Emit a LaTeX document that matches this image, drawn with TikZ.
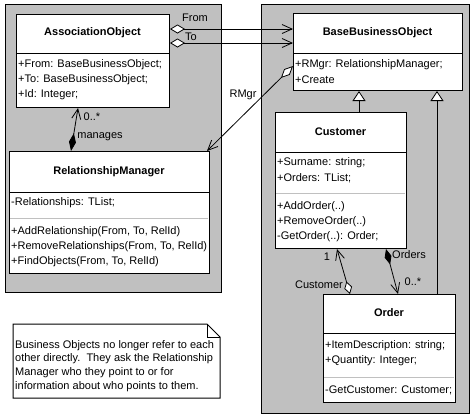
\documentclass[tikz,border=0pt]{standalone}
\usepackage{fontspec}
\setmainfont{Liberation Sans}
\usetikzlibrary{arrows.meta}
\definecolor{panelgray}{HTML}{C0C0C0}
\definecolor{sepgray}{HTML}{C0C0C0}
\begin{document}
\begin{tikzpicture}[x=1pt,y=-1pt,
  panel/.style={draw=black, fill=panelgray, line width=1pt, anchor=north west, inner sep=0pt},
  cbox/.style={draw=black, fill=white, line width=1pt, anchor=north west, inner sep=0pt},
  ctitle/.style={font=\fontsize{11}{13}\selectfont\bfseries, inner sep=0pt},
  ctxt/.style={font=\fontsize{11}{13}\selectfont, anchor=west, inner sep=0pt},
  lbl/.style={font=\fontsize{11}{13}\selectfont, inner sep=0pt},
  bsep/.style={draw=black, line width=1pt},
  gsep/.style={draw=sepgray, line width=1pt},
  conn/.style={draw=black, line width=0.8pt},
  barb/.tip={Straight Barb[length=10pt,width=9pt,line width=0.8pt]},
  odia/.tip={Diamond[fill=white,length=15pt,width=9pt,line width=0.8pt]},
  fdia/.tip={Diamond[fill=black,length=16pt,width=7pt,line width=0.8pt]},
  gtri/.tip={Triangle[fill=white,length=10pt,width=13pt,line width=0.8pt]}
]
\useasboundingbox (0,0) rectangle (474,416);
\fill[white] (0,0) rectangle (474,416);

% panels
\node[panel, minimum width=216pt, minimum height=288pt] (lp) at (5,4) {};
\node[panel, minimum width=208pt, minimum height=409pt] (rp) at (261,4) {};

% AssociationObject
\node[cbox, minimum width=153pt, minimum height=93pt] (ao) at (16,14) {};
\node[ctitle] (aot) at (92.5,33) {AssociationObject};
\draw[bsep] (16,53) -- (169,53);
\node[ctxt] (ao1) at (18,65) {+From: BaseBusinessObject;};
\node[ctxt] (ao2) at (18,80) {+To: BaseBusinessObject;};
\node[ctxt] (ao3) at (18,95) {+Id: Integer;};

% BaseBusinessObject
\node[cbox, minimum width=169pt, minimum height=77pt] (bbo) at (293,13) {};
\node[ctitle] (bbot) at (377.5,33) {BaseBusinessObject};
\draw[bsep] (293,53) -- (462,53);
\node[ctxt] (bbo1) at (295,65) {+RMgr: RelationshipManager;};
\node[ctxt] (bbo2) at (295,80) {+Create};

% RelationshipManager
\node[cbox, minimum width=200pt, minimum height=122pt] (rm) at (9,151) {};
\node[ctitle] (rmt) at (109,172) {RelationshipManager};
\draw[bsep] (9,192) -- (209,192);
\node[ctxt] (rm1) at (11,203) {-Relationships: TList;};
\draw[gsep] (10,218) -- (208,218);
\node[ctxt] (rm2) at (11,232) {+AddRelationship(From, To, RelId)};
\node[ctxt] (rm3) at (11,247) {+RemoveRelationships(From, To, RelId)};
\node[ctxt] (rm4) at (11,262) {+FindObjects(From, To, RelId)};

% Customer
\node[cbox, minimum width=131pt, minimum height=136pt] (cu) at (275,112) {};
\node[ctitle] (cut) at (340.5,132) {Customer};
\draw[bsep] (275,152) -- (406,152);
\node[ctxt] (cu1) at (277,163) {+Surname: string;};
\node[ctxt] (cu2) at (277,178) {+Orders: TList;};
\draw[gsep] (276,193) -- (405,193);
\node[ctxt] (cu3) at (277,207) {+AddOrder(..)};
\node[ctxt] (cu4) at (277,222) {+RemoveOrder(..)};
\node[ctxt] (cu5) at (277,237) {-GetOrder(..): Order;};

% Order
\node[cbox, minimum width=132pt, minimum height=108pt] (or) at (323,294) {};
\node[ctitle] (ort) at (389,313) {Order};
\draw[bsep] (323,333) -- (455,333);
\node[ctxt] (or1) at (325,346) {+ItemDescription: string;};
\node[ctxt] (or2) at (325,361) {+Quantity: Integer;};
\draw[gsep] (324,377) -- (454,377);
\node[ctxt] (or3) at (325,390) {-GetCustomer: Customer;};

% connectors
\draw[conn, odia-barb] ([yshift=-15pt]ao.north east) -- ([yshift=-15pt]ao.north east -| bbo.west);
\draw[conn, odia-barb] ([yshift=-29pt]ao.north east) -- ([yshift=-29pt]ao.north east -| bbo.west);
\node[lbl] (lfrom) at (195,18) {From};
\node[lbl] (lto) at (191,37) {To};

\draw[conn, {Diamond[fill=white,length=17pt,width=8pt,line width=0.8pt]}-barb] ([yshift=-53pt]bbo.north west) -- ([xshift=-3pt]rm.north east);
\node[lbl] (lrmgr) at (243,95) {RMgr};

\draw[conn, {Diamond[fill=black,length=18pt,width=7pt,line width=0.8pt]}-barb] ([xshift=62pt]rm.north west) -- ([xshift=62pt]ao.south west);
\node[lbl] (lmany1) at (92,117) {0..*};
\node[lbl] (lmanages) at (100,137) {manages};

\draw[conn, -gtri] ([xshift=84pt]cu.north west) -- ([xshift=84pt]cu.north west |- bbo.south);
\draw[conn, -gtri] ([xshift=114pt]or.north west) -- ([xshift=114pt]or.north west |- bbo.south);

\draw[conn, {Diamond[fill=white,length=13pt,width=8pt,line width=0.8pt]}-barb] ([xshift=27pt]or.north west) -- ([xshift=62pt]cu.south west);
\node[lbl] (lone) at (327,257) {1};
\node[lbl] (lcust) at (319,285) {Customer};

\draw[conn, fdia-barb] ([xshift=111pt]cu.south west) -- ([xshift=75pt]or.north west);
\node[lbl] (lorders) at (409,255) {Orders};
\node[lbl] (lmany2) at (413,282) {0..*};

% note
\draw[line width=1pt, fill=white] (13,324) -- (207,324) -- (220,337) -- (220,398) -- (13,398) -- cycle;
\draw[line width=0.8pt] (207,324) -- (207,337) -- (220,337);
\node[font=\fontsize{11}{13.7}\selectfont, align=left, anchor=north west, inner sep=0pt] (note) at (15,340)
 {Business Objects no longer refer to each\\other directly.\ \ They ask the Relationship\\Manager who they point to or for\\information about who points to them.};
\end{tikzpicture}
\end{document}
